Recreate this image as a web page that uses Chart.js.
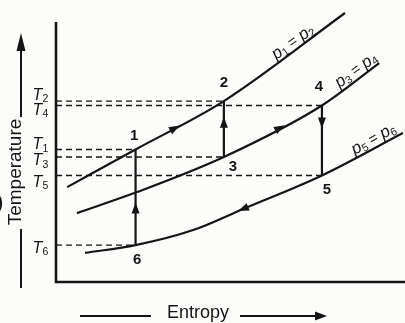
<!DOCTYPE html>
<html>
<head>
<meta charset="utf-8">
<script src="https://cdn.jsdelivr.net/npm/chart.js@4.4.1/dist/chart.umd.min.js"></script>
<style>
  html, body { margin: 0; padding: 0; background: #fcfcfa; }
  canvas { display: block; }
</style>
</head>
<body>
<canvas id="tsChart" width="405" height="323"></canvas>
<script>
// state points of the cycle (entropy, temperature), arbitrary units
const stateNames = ['1', '2', '3', '4', '5', '6'];
const stateEntropy = [22.8, 48.1, 48.1, 76.2, 76.2, 22.8];
const stateTemp = [51.0, 69.6, 48.1, 67.9, 41.0, 14.2];

// tick labels on the temperature axis: T1..T6
const tempTickLabels = ['1', '2', '3', '4', '5', '6'];

// constant pressure lines
const isobar12 = [[3.2, 36.5], [22.8, 51.0], [48.1, 69.6], [82.8, 103.5]];
const isobar34 = [[6.0, 26.5], [23.2, 34.6], [48.1, 48.1], [76.2, 67.9], [92.6, 84.2]];
const isobar56 = [[8.3, 11.2], [22.8, 14.2], [39.3, 20.0], [53.6, 28.1], [76.2, 41.0], [99.4, 57.3]];
const isobarLabels = [['1', '2'], ['3', '4'], ['5', '6']];
const isobarLabelAt = [[67.9, 92.3], [86.0, 81.5], [91.0, 55.0]];

// vertical processes, pairs of state indexes
const verticalProcesses = [[5, 0], [2, 1], [3, 4]];

// arrow heads: at (s, T) pointing toward (s2, T2)
const arrowMarks = [
    [34.1, 59.2, 48.1, 69.6],
    [64.2, 59.3, 76.2, 67.9],
    [53.6, 28.1, 39.3, 20.0],
    [22.8, 28.5, 22.8, 51.0],
    [48.1, 61.5, 48.1, 69.6],
    [76.2, 61.2, 76.2, 41.0]
];

const ink = '#151515';
const sans = "'Liberation Sans', Arial, sans-serif";

const lineSet = (points, extra) => Object.assign({
    data: points.map(p => ({ x: p[0], y: p[1] })),
    borderColor: ink,
    borderWidth: 2.2,
    pointRadius: 0,
    fill: false,
    clip: false
}, extra);

// draws text made of [text, font, dy] pieces, centred on 0,0
function richText(ctx, parts) {
    let width = 0;
    parts.forEach(p => { ctx.font = p[1]; width += ctx.measureText(p[0]).width; });
    let x = -width / 2;
    parts.forEach(p => {
        ctx.font = p[1];
        ctx.fillText(p[0], x, p[2]);
        x += ctx.measureText(p[0]).width;
    });
}

function arrowHead(ctx, x, y, ang, len, half) {
    ctx.save();
    ctx.translate(x, y);
    ctx.rotate(ang);
    ctx.beginPath();
    ctx.moveTo(len / 2, 0);
    ctx.lineTo(-len / 2, -half);
    ctx.lineTo(-len / 2, half);
    ctx.closePath();
    ctx.fill();
    ctx.restore();
}

const decorations = {
    id: 'decorations',
    beforeDatasetsDraw(chart) {
        const { ctx, scales: { x, y } } = chart;
        ctx.save();
        ctx.strokeStyle = ink;
        ctx.lineWidth = 2.6;
        ctx.beginPath();
        ctx.moveTo(x.getPixelForValue(0), y.getPixelForValue(100));
        ctx.lineTo(x.getPixelForValue(0), y.getPixelForValue(0));
        ctx.lineTo(x.getPixelForValue(100), y.getPixelForValue(0));
        ctx.stroke();
        ctx.restore();
    },
    afterDatasetsDraw(chart) {
        const { ctx, scales: { x, y } } = chart;
        ctx.save();
        ctx.fillStyle = ink;
        ctx.strokeStyle = ink;
        ctx.textBaseline = 'middle';

        arrowMarks.forEach(a => {
            const px = x.getPixelForValue(a[0]), py = y.getPixelForValue(a[1]);
            const ang = Math.atan2(y.getPixelForValue(a[3]) - py, x.getPixelForValue(a[2]) - px);
            arrowHead(ctx, px, py, ang, 11, 4);
        });

        // state numbers
        const nameOffsets = [[-1.5, -13.5], [0, -18], [9, 10], [-3, -18.5], [5, 14], [1.5, 15]];
        ctx.font = 'bold 15px ' + sans;
        ctx.textAlign = 'center';
        stateNames.forEach((n, i) => {
            ctx.fillText(n, x.getPixelForValue(stateEntropy[i]) + nameOffsets[i][0],
                y.getPixelForValue(stateTemp[i]) + nameOffsets[i][1]);
        });

        // T tick labels
        const tickOffsets = [-4.5, -6, 4, 5, 7, 3];
        ctx.textAlign = 'left';
        tempTickLabels.forEach((t, i) => {
            const py = y.getPixelForValue(stateTemp[i]) + tickOffsets[i];
            ctx.font = 'italic 16px ' + sans;
            ctx.fillText('T', 32.5, py);
            ctx.font = '10.5px ' + sans;
            ctx.fillText(t, 42.5, py + 4);
        });

        // isobar labels
        const angles = [-36, -36, -29];
        isobarLabels.forEach((l, i) => {
            ctx.save();
            ctx.translate(x.getPixelForValue(isobarLabelAt[i][0]), y.getPixelForValue(isobarLabelAt[i][1]));
            ctx.rotate(angles[i] * Math.PI / 180);
            richText(ctx, [
                ['p', 'italic 17px ' + sans, 0],
                [l[0], '11px ' + sans, 4],
                [' = ', '15px ' + sans, 0],
                ['p', 'italic 17px ' + sans, 0],
                [l[1], '11px ' + sans, 4]
            ]);
            ctx.restore();
        });

        // axis titles
        ctx.lineWidth = 2;
        ctx.beginPath();
        ctx.moveTo(21, 117); ctx.lineTo(21, 44);
        ctx.moveTo(21, 229); ctx.lineTo(21, 288);
        ctx.moveTo(80, 316); ctx.lineTo(151, 316);
        ctx.moveTo(240, 316); ctx.lineTo(318, 316);
        ctx.stroke();
        ctx.beginPath();
        ctx.moveTo(21, 33); ctx.lineTo(16.5, 51); ctx.lineTo(25.5, 51);
        ctx.closePath(); ctx.fill();
        ctx.beginPath();
        ctx.moveTo(327, 316); ctx.lineTo(315, 311.5); ctx.lineTo(315, 320.5);
        ctx.closePath(); ctx.fill();

        ctx.save();
        ctx.translate(16, 172);
        ctx.rotate(-Math.PI / 2);
        ctx.textAlign = 'center';
        ctx.font = '19px ' + sans;
        ctx.fillText('Temperature', 0, 0);
        ctx.restore();

        ctx.textAlign = 'center';
        ctx.textBaseline = 'alphabetic';
        ctx.font = '18px ' + sans;
        ctx.fillText('Entropy', 198, 318);

        ctx.font = 'bold 18px ' + sans;
        ctx.textAlign = 'left';
        ctx.fillText(')', -3, 208);
        ctx.restore();
    }
};

document.addEventListener('DOMContentLoaded', () => {
    const tsChart = document.getElementById('tsChart').getContext('2d');

    const levelSets = stateNames.map((n, i) => lineSet(
        [[0, stateTemp[i]], [stateEntropy[i], stateTemp[i]]],
        { borderWidth: 1.4, borderDash: [6, 4] }
    ));
    const curveSets = [isobar12, isobar34, isobar56].map(c => lineSet(c, { cubicInterpolationMode: 'monotone' }));
    const verticalSets = verticalProcesses.map(p => lineSet(
        [[stateEntropy[p[0]], stateTemp[p[0]]], [stateEntropy[p[1]], stateTemp[p[1]]]]
    ));

    new Chart(tsChart, {
        type: 'line',
        data: { datasets: [...levelSets, ...curveSets, ...verticalSets] },
        options: {
            responsive: false,
            animation: false,
            devicePixelRatio: 1,
            layout: { padding: { left: 56, right: 0, top: 0, bottom: 41 } },
            plugins: {
                legend: { display: false },
                tooltip: { enabled: false }
            },
            scales: {
                x: { type: 'linear', min: 0, max: 100, display: false },
                y: { type: 'linear', min: 0, max: 108.5, display: false }
            }
        },
        plugins: [decorations]
    });
});
</script>
</body>
</html>
